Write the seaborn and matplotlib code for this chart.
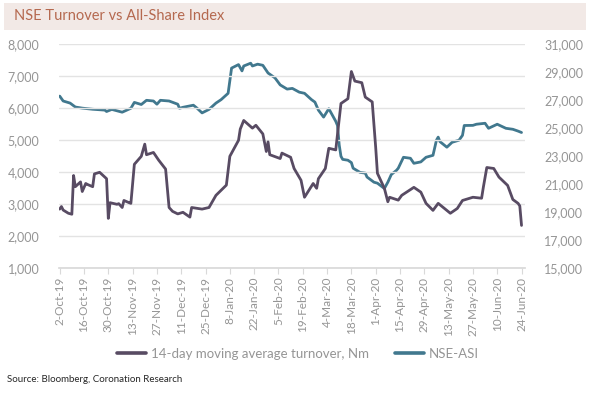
import matplotlib
matplotlib.use("Agg")
import matplotlib.pyplot as plt
from matplotlib.patches import Rectangle
from matplotlib.ticker import FuncFormatter, FixedLocator
from matplotlib.lines import Line2D
import seaborn as sns
import pandas as pd

# ---------------- data ----------------
turnover_dates = [
    "2019-10-02", "2019-10-03", "2019-10-04", "2019-10-07", "2019-10-09", "2019-10-10",
    "2019-10-11", "2019-10-14", "2019-10-15", "2019-10-17", "2019-10-18", "2019-10-21",
    "2019-10-22", "2019-10-25", "2019-10-28", "2019-10-29", "2019-10-30", "2019-10-31",
    "2019-11-04", "2019-11-05", "2019-11-07", "2019-11-08", "2019-11-11", "2019-11-12",
    "2019-11-14", "2019-11-18", "2019-11-20", "2019-11-21", "2019-11-25", "2019-11-28",
    "2019-12-02", "2019-12-04", "2019-12-06", "2019-12-09", "2019-12-12", "2019-12-16",
    "2019-12-17", "2019-12-23", "2019-12-27", "2019-12-31", "2020-01-06", "2020-01-08",
    "2020-01-13", "2020-01-14", "2020-01-16", "2020-01-21", "2020-01-23", "2020-01-27",
    "2020-01-29", "2020-01-30", "2020-01-31", "2020-02-06", "2020-02-07", "2020-02-12",
    "2020-02-14", "2020-02-18", "2020-02-20", "2020-02-25", "2020-02-27", "2020-02-28",
    "2020-03-03", "2020-03-05", "2020-03-09", "2020-03-12", "2020-03-16", "2020-03-18",
    "2020-03-20", "2020-03-24", "2020-03-26", "2020-03-30", "2020-04-01", "2020-04-02",
    "2020-04-06", "2020-04-08", "2020-04-09", "2020-04-14", "2020-04-16", "2020-04-23",
    "2020-04-27", "2020-04-30", "2020-05-04", "2020-05-07", "2020-05-14", "2020-05-18",
    "2020-05-21", "2020-05-27", "2020-06-01", "2020-06-02", "2020-06-04", "2020-06-08",
    "2020-06-11", "2020-06-16", "2020-06-19", "2020-06-22", "2020-06-23", "2020-06-24",
]
turnover_values = [
    2850, 2930, 2820, 2720, 2690, 3900,
    3550, 3700, 3400, 3650, 3620, 3550,
    3950, 4000, 3850, 3800, 2560, 3050,
    3000, 3020, 2900, 3120, 3050, 3030,
    4250, 4500, 4880, 4550, 4620, 4380,
    4100, 2900, 2780, 2700, 2750, 2600,
    2900, 2850, 2900, 3280, 3600, 4500,
    5000, 5350, 5620, 5380, 5470, 5200,
    4650, 4950, 4550, 4430, 4600, 4470,
    4120, 3750, 3220, 3650, 3500, 3800,
    4120, 4750, 4700, 6150, 6300, 7150,
    6850, 6800, 6350, 6200, 4780, 3970,
    3500, 3080, 3220, 3130, 3280, 3530,
    3380, 3030, 2810, 3030, 2720, 2870,
    3120, 3220, 3190, 3530, 4150, 4120,
    3850, 3590, 3150, 3030, 2950, 2340,
]

asi_dates = [
    "2019-10-02", "2019-10-04", "2019-10-08", "2019-10-11", "2019-10-15", "2019-10-21",
    "2019-10-28", "2019-10-29", "2019-11-01", "2019-11-07", "2019-11-12", "2019-11-14",
    "2019-11-18", "2019-11-21", "2019-11-25", "2019-11-27", "2019-11-29", "2019-12-04",
    "2019-12-09", "2019-12-10", "2019-12-12", "2019-12-18", "2019-12-20", "2019-12-23",
    "2019-12-27", "2019-12-31", "2020-01-03", "2020-01-07", "2020-01-09", "2020-01-13",
    "2020-01-15", "2020-01-16", "2020-01-20", "2020-01-21", "2020-01-24", "2020-01-27",
    "2020-01-30", "2020-02-03", "2020-02-06", "2020-02-10", "2020-02-13", "2020-02-17",
    "2020-02-20", "2020-02-24", "2020-02-26", "2020-02-28", "2020-03-02", "2020-03-05",
    "2020-03-09", "2020-03-10", "2020-03-11", "2020-03-12", "2020-03-13", "2020-03-16",
    "2020-03-18", "2020-03-19", "2020-03-23", "2020-03-26", "2020-03-27", "2020-03-31",
    "2020-04-02", "2020-04-06", "2020-04-08", "2020-04-10", "2020-04-13", "2020-04-14",
    "2020-04-17", "2020-04-21", "2020-04-23", "2020-04-27", "2020-04-30", "2020-05-04",
    "2020-05-06", "2020-05-07", "2020-05-08", "2020-05-12", "2020-05-15", "2020-05-19",
    "2020-05-21", "2020-05-22", "2020-05-27", "2020-05-29", "2020-06-03", "2020-06-05",
    "2020-06-10", "2020-06-15", "2020-06-19", "2020-06-22", "2020-06-24",
]
asi_values = [
    27300, 26950, 26800, 26520, 26440, 26360,
    26300, 26200, 26350, 26150, 26430, 26850,
    26700, 27000, 26950, 26720, 27000, 26950,
    26720, 26430, 26500, 26650, 26450, 26100,
    26350, 26800, 27050, 27500, 29300, 29550,
    29100, 29450, 29650, 29450, 29580, 29500,
    28950, 28600, 28100, 27800, 27850, 27580,
    27500, 27050, 26870, 26300, 25800, 26400,
    25500, 25200, 23800, 23000, 22780, 22720,
    22550, 22150, 21850, 21800, 21520, 21150,
    21080, 20700, 21150, 21700, 22000, 22150,
    22930, 22860, 22500, 22600, 22930, 23070,
    24150, 24370, 24050, 23650, 24000, 24150,
    24500, 25200, 25210, 25290, 25360, 25000,
    25290, 25000, 24930, 24800, 24700,
]

tick_dates = [
    "2019-10-02", "2019-10-16", "2019-10-30", "2019-11-13", "2019-11-27",
    "2019-12-11", "2019-12-25", "2020-01-08", "2020-01-22", "2020-02-05",
    "2020-02-19", "2020-03-04", "2020-03-18", "2020-04-01", "2020-04-15",
    "2020-04-29", "2020-05-13", "2020-05-27", "2020-06-10", "2020-06-24",
]
left_ticks = [1000, 2000, 3000, 4000, 5000, 6000, 7000, 8000]
right_ticks = [15000, 17000, 19000, 21000, 23000, 25000, 27000, 29000, 31000]

title = "NSE Turnover vs All-Share Index"
label_turnover = "14-day moving average turnover, Nm"
label_asi = "NSE-ASI"
source = "Source: Bloomberg, Coronation Research"

# ---------------- style ----------------
sns.set_theme(style="white")
plt.rcParams["font.family"] = ["Lato", "DejaVu Sans"]

PURPLE = "#584B63"
BLUE = "#41788E"
GRID = "#E3E3E3"
TICKC = "#959595"

df_t = pd.DataFrame({"date": pd.to_datetime(turnover_dates), "value": turnover_values})
df_a = pd.DataFrame({"date": pd.to_datetime(asi_dates), "value": asi_values})

W, H = 591, 393
fig = plt.figure(figsize=(W / 100, H / 100), dpi=100)
fig.patch.set_facecolor("white")

left, right, top, bottom = 59, 525, 44.3, 268.3
ax = fig.add_axes([left / W, 1 - bottom / H, (right - left) / W, (bottom - top) / H])
ax2 = ax.twinx()

sns.lineplot(data=df_t, x="date", y="value", ax=ax, color=PURPLE, linewidth=2.0, legend=False)
sns.lineplot(data=df_a, x="date", y="value", ax=ax2, color=BLUE, linewidth=2.0, legend=False)

ax.set_ylim(1000, 8000)
ax2.set_ylim(15000, 31000)
ax.set_xlim(pd.Timestamp("2019-10-02") - pd.Timedelta(days=0.4), pd.Timestamp("2020-06-26"))

ax.yaxis.set_major_locator(FixedLocator(left_ticks))
ax2.yaxis.set_major_locator(FixedLocator(right_ticks))
fmt = FuncFormatter(lambda v, p: f"{int(v):,}")
ax.yaxis.set_major_formatter(fmt)
ax2.yaxis.set_major_formatter(fmt)

tick_dt = pd.to_datetime(tick_dates)
ax.set_xticks(tick_dt)
ax.set_xticklabels([f"{d.day}-{d.strftime('%b-%y')}" for d in tick_dt], rotation=90)

ax.grid(axis="y", color=GRID, linewidth=1)
ax.set_axisbelow(True)
ax2.grid(False)
for a in (ax, ax2):
    for s in a.spines.values():
        s.set_visible(False)
    a.set_xlabel("")
    a.set_ylabel("")
ax.spines["bottom"].set_visible(True)
ax.spines["bottom"].set_color("#D9D9D9")

ax.tick_params(axis="y", colors=TICKC, labelsize=9, length=0, pad=14)
ax2.tick_params(axis="y", colors=TICKC, labelsize=9, length=0, pad=14)
ax.tick_params(axis="x", colors="#D9D9D9", labelcolor=TICKC, labelsize=8.5,
               length=4, width=0.8, direction="out", bottom=True, pad=2)
ax.set_zorder(ax2.get_zorder() + 1)
ax.patch.set_visible(False)

# title bar
fig.patches.append(Rectangle((4 / W, 1 - 29.7 / H), (585.7 - 4) / W, (29.7 - 3) / H,
                             transform=fig.transFigure, facecolor="#F2E9E6",
                             edgecolor="none", zorder=0))
fig.text(14 / W, 1 - 16.5 / H, title, color="#B5694F", fontsize=10.5,
         ha="left", va="center")

# legend
handles = [Line2D([], [], color=PURPLE, linewidth=2.6),
           Line2D([], [], color=BLUE, linewidth=2.6)]
fig.legend(handles, [label_turnover, label_asi], loc="center",
           bbox_to_anchor=(298 / W, 1 - 354 / H), ncol=2, frameon=False,
           fontsize=9.5, labelcolor=TICKC, handlelength=2.2, handletextpad=0.35,
           columnspacing=2.0)

fig.text(7 / W, 1 - 379 / H, source, color="#262626", fontsize=7, ha="left", va="center")

fig.savefig("out.png", dpi=100)
